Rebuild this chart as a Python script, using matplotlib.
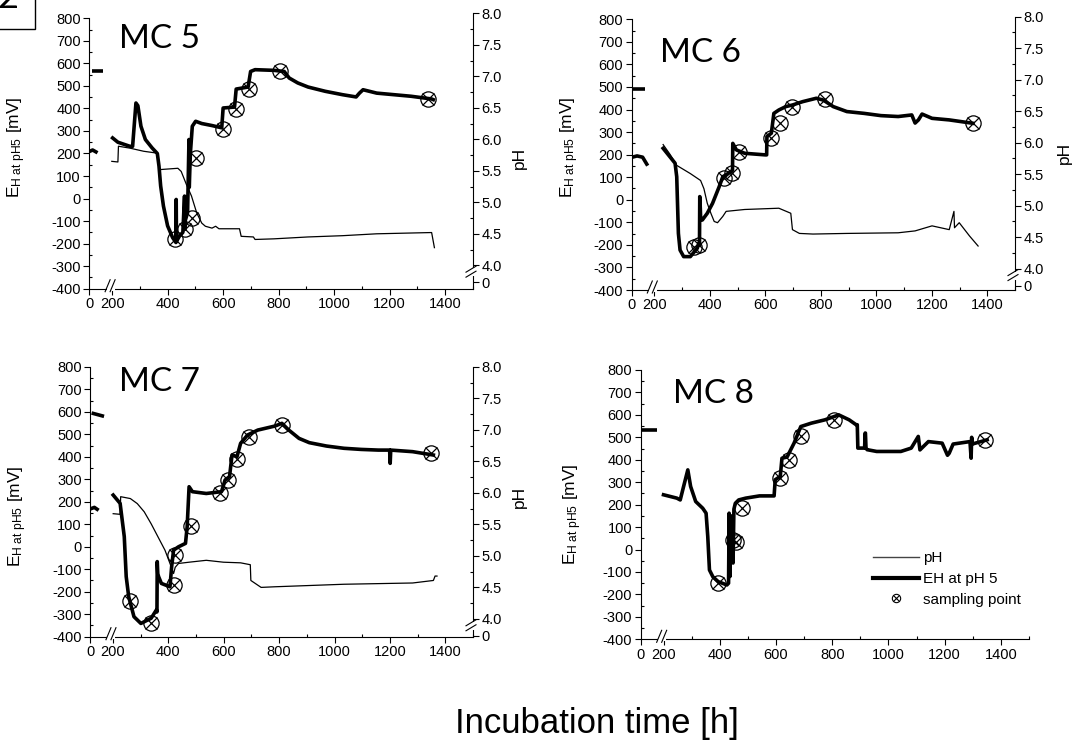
import numpy as np
import matplotlib.pyplot as plt
from matplotlib.lines import Line2D
from matplotlib.patches import Rectangle
from matplotlib.ticker import FuncFormatter

plt.rcParams['font.family'] = ['Liberation Sans', 'DejaVu Sans']
plt.rcParams['mathtext.fontset'] = 'custom'
plt.rcParams['mathtext.rm'] = 'Liberation Sans'
plt.rcParams['mathtext.it'] = 'Liberation Sans:italic'
plt.rcParams['axes.linewidth'] = 0.8
plt.rcParams['axes.unicode_minus'] = False

W, H = 1074, 749

# ---- MC 5 ----
mc5_eh_t0 = [8, 50]
mc5_eh0 = [568, 568]
mc5_eh_t = [202, 221, 264, 274, 286, 293, 304, 320, 344, 363, 369, 375, 385, 400, 418, 430, 431,
            432, 443, 455, 461, 462, 463, 472, 477, 478, 482, 489, 501, 523, 560, 595, 600, 641,
            647, 690, 699, 715, 783, 820, 838, 869, 906, 968, 1030, 1079, 1091, 1104, 1153, 1215,
            1277, 1351, 1357]
mc5_eh = [269, 250, 232, 232, 424, 412, 321, 262, 225, 200, 144, 56, -33, -121, -173, -195, -4,
          -190, -166, -150, 11, -136, -100, -62, 262, 50, 200, 321, 343, 333, 324, 314, 402, 406,
          486, 495, 564, 572, 569, 564, 535, 513, 495, 476, 461, 451, 468, 483, 468, 461,
          454, 442, 439]
mc5_ph_t0 = [2, 12, 24]
mc5_ph0 = [5.81, 5.83, 5.80]
mc5_ph_t = [190, 221, 223, 264, 314, 363, 369, 375, 437, 449, 468, 486, 505, 523, 536, 560, 573,
            585, 659, 665, 709, 715, 783, 906, 1030, 1153, 1351, 1361]
mc5_ph = [5.65, 5.64, 5.89, 5.86, 5.81, 5.78, 5.54, 5.52, 5.54, 5.49, 5.28, 5.10, 4.83, 4.67,
          4.62, 4.59, 4.62, 4.58, 4.58, 4.46, 4.45, 4.41, 4.42, 4.45, 4.47, 4.50, 4.52, 4.28]
mc5_samp_t = [427, 462, 489, 501, 598, 647, 694, 805, 1338]
mc5_samp = [-180, -136, -85, 181, 309, 398, 486, 567, 442]

# ---- MC 6 ----
mc6_eh_t0 = [5, 50]
mc6_eh0 = [491, 491]
mc6_eh_t = [232, 275, 281, 287, 293, 306, 330, 355, 361, 363, 364, 366, 367, 373, 391, 410, 434,
            447, 477, 482, 483, 496, 526, 600, 605, 606, 622, 631, 649, 674, 698, 735, 784, 809,
            845, 894, 956, 1017, 1079, 1128, 1140, 1152, 1165, 1201, 1263, 1348]
mc6_eh = [228, 162, 102, -149, -223, -252, -252, -215, -193, -200, 14, -40, -75, -90, -60, -16,
          58, 102, 125, 130, 250, 221, 206, 199, 199, 280, 295, 383, 398, 413, 420, 435, 450, 442,
          413, 391, 383, 373, 369, 376, 340, 354, 380, 361, 354, 339]
mc6_ph_t0 = [3, 20, 40, 55]
mc6_ph0 = [5.77, 5.79, 5.77, 5.66]
mc6_ph_t = [232, 256, 281, 330, 367, 379, 391, 404, 416, 428, 447, 459, 526, 649, 692, 698, 723,
            772, 894, 1079, 1140, 1201, 1263, 1280, 1282, 1299, 1336, 1367]
mc6_ph = [5.97, 5.82, 5.64, 5.51, 5.40, 5.27, 5.04, 4.88, 4.75, 4.73, 4.83, 4.91, 4.94, 4.96,
          4.88, 4.62, 4.56, 4.55, 4.56, 4.57, 4.60, 4.68, 4.62, 4.91, 4.65, 4.73, 4.52, 4.36]
mc6_samp_t = [342, 361, 450, 480, 505, 622, 653, 698, 815, 1348]
mc6_samp = [-208, -200, 95, 117, 213, 272, 342, 413, 445, 339]

# ---- MC 7 ----
mc7_eh_t0 = [5, 50]
mc7_eh0 = [595, 580]
mc7_eh_t = [201, 226, 241, 248, 257, 276, 301, 338, 357, 359, 360, 362, 365, 375, 406, 412, 419,
            437, 462, 468, 475, 487, 537, 592, 605, 621, 630, 648, 661, 686, 723, 785, 810, 835,
            872, 909, 971, 1034, 1096, 1158, 1199, 1201, 1203, 1282, 1357]
mc7_eh = [230, 193, 45, -133, -222, -311, -341, -318, -281, -290, -66, -120, -133, -163, -178,
          -89, -15, 0, 15, 89, 267, 245, 237, 245, 297, 312, 408, 401, 460, 497, 519, 537, 549,
          519, 482, 463, 448, 438, 433, 430, 430, 371, 430, 423, 408]
mc7_ph_t0 = [3, 15, 25]
mc7_ph0 = [5.75, 5.77, 5.74]
mc7_ph_t = [201, 226, 228, 263, 288, 313, 338, 363, 388, 406, 419, 425, 437, 475, 537, 599, 661,
            696, 698, 735, 785, 1034, 1282, 1357, 1363, 1370]
mc7_ph = [5.67, 5.66, 5.94, 5.91, 5.83, 5.70, 5.51, 5.30, 5.09, 4.88, 4.72, 4.82, 4.88, 4.90,
          4.93, 4.90, 4.89, 4.86, 4.61, 4.50, 4.51, 4.55, 4.57, 4.61, 4.68, 4.68]
mc7_samp_t = [261, 338, 419, 425, 481, 586, 617, 648, 692, 812, 1347]
mc7_samp = [-240, -338, -170, -37, 94, 237, 297, 389, 489, 541, 415]

# ---- MC 8 ----
mc8_eh_t0 = [5, 60]
mc8_eh0 = [534, 534]
mc8_eh_t = [195, 247, 259, 271, 286, 296, 314, 339, 351, 357, 363, 375, 394, 425, 431, 433, 436,
            440, 443, 447, 450, 455, 467, 492, 541, 593, 597, 615, 621, 639, 664, 688, 725, 774,
            823, 860, 885, 889, 891, 915, 917, 918, 920, 924, 958, 1044, 1081, 1106, 1112, 1142,
            1191, 1210, 1216, 1230, 1290, 1294, 1296, 1298, 1351]
mc8_eh = [244, 229, 221, 281, 355, 281, 214, 184, 162, 58, -91, -121, -143, -158, -150, 162, -120,
          150, 88, -60, 180, 206, 221, 229, 239, 239, 311, 326, 407, 412, 474, 548, 563, 578, 600,
          578, 556, 556, 452, 452, 519, 519, 452, 445, 437, 437, 452, 504, 444, 481, 474, 420,
          429, 470, 481, 407, 500, 470, 489]
mc8_samp_t = [394, 448, 457, 480, 615, 645, 688, 805, 1345]
mc8_samp = [-150, 43, 33, 184, 318, 400, 504, 578, 489]

x_major = [0, 200, 400, 600, 800, 1000, 1200, 1400]
x_minor = [300, 500, 700, 900, 1100, 1300, 1500]
ph_major = [0, 4.0, 4.5, 5.0, 5.5, 6.0, 6.5, 7.0, 7.5, 8.0]
ph_minor = [4.25, 4.75, 5.25, 5.75, 6.25, 6.75, 7.25, 7.75]


# broken time axis: 0..70 h kept, gap squeezed, then linear from 200 h
def x_fwd(t):
    t = np.asarray(t, float)
    return np.where(t <= 70, t, np.where(t >= 200, t - 118, 70 + (t - 70) * 12 / 130))


def x_inv(u):
    u = np.asarray(u, float)
    return np.where(u <= 70, u, np.where(u >= 82, u + 118, 70 + (u - 70) * 130 / 12))


PH0 = 3.73


def ph_fwd(p):
    p = np.asarray(p, float)
    return np.where(p >= 4, p, PH0 + p * (4 - PH0) / 4)


def ph_inv(u):
    u = np.asarray(u, float)
    return np.where(u >= 4, u, (u - PH0) * 4 / (4 - PH0))


fig = plt.figure(figsize=(W / 100, H / 100), dpi=100)
to_fig = fig.transFigure.inverted()


def fig_line(xs, ys, **kw):
    pts = to_fig.transform(np.column_stack([xs, ys]))
    fig.add_artist(Line2D(pts[:, 0], pts[:, 1], transform=fig.transFigure, **kw))


def style_ticks(axis_obj):
    axis_obj.tick_params(which='major', direction='out', length=4, width=0.8, labelsize=10.5, pad=2)
    axis_obj.tick_params(which='minor', direction='in', length=2.5, width=0.8)


def panel(box, eh_t0, eh0, eh_t, eh, samp_t, samp, ylab_pos,
          ph_t0=None, ph0=None, ph_t=None, ph=None, phlab_pos=None):
    left, right, bottom, top, mv800 = box
    ax = fig.add_axes([left / W, 1 - bottom / H, (right - left) / W, (bottom - top) / H])
    ax.set_xscale('function', functions=(x_fwd, x_inv))
    ax.set_xlim(0, 1500)
    ppm = (bottom - mv800) / 1200
    ax.set_ylim(-400, 800 + (mv800 - top) / ppm)
    ax.spines['left'].set_bounds(-400, 800)
    ax.spines[['top', 'right']].set_visible(False)
    ax.set_xticks(x_major)
    ax.set_xticks(x_minor, minor=True)
    ax.set_yticks(range(-400, 801, 100))
    ax.set_yticks(range(-350, 751, 100), minor=True)
    style_ticks(ax)

    ax.plot(eh_t0, eh0, color='k', lw=2.6, solid_capstyle='butt')
    ax.plot(eh_t, eh, color='k', lw=2.6)
    ax.plot(samp_t, samp, ls='none', marker='o', ms=11, mfc='none', mec='k', mew=0.9, zorder=4)
    ax.plot(samp_t, samp, ls='none', marker='x', ms=8, mec='k', mew=0.9, zorder=4)

    ax.set_ylabel('E$_{\\mathregular{H\\ at\\ pH5}}$ [mV]', fontsize=12.5, va='center')
    ax.yaxis.set_label_coords(*ylab_pos)

    # break marks on the time axis
    x0, y0 = ax.transData.transform((124, -400))
    fig_line([x0 - 2.5, x0 + 2.5], [y0, y0], color='white', lw=2.2, zorder=5)
    for dx in (-2.5, 2.5):
        fig_line([x0 + dx - 2.5, x0 + dx + 2.5], [y0 - 3, y0 + 9], color='k', lw=0.8, zorder=6)

    ax2 = None
    if ph_t is not None:
        ax2 = ax.twinx()
        ax2.set_yscale('function', functions=(ph_fwd, ph_inv))
        ph_bottom = ph_inv(8 - (bottom - top) / 63.0)
        ax2.set_ylim(float(ph_bottom), 8.0)
        ax2.spines[['top', 'left', 'bottom']].set_visible(False)
        ax2.set_yticks(ph_major)
        ax2.set_yticks(ph_minor, minor=True)
        ax2.yaxis.set_major_formatter(FuncFormatter(lambda v, pos: '0' if abs(v) < 1e-9 else f'{v:.1f}'))
        style_ticks(ax2)
        ax2.plot(ph_t0, ph0, color='k', lw=2.6)
        ax2.plot(ph_t, ph, color='k', lw=0.9)
        ax2.set_ylabel('pH', fontsize=12.5, va='center')
        ax2.yaxis.set_label_coords(*phlab_pos)

        x1, y1 = ax2.transData.transform((1500, 2.5))
        fig_line([x1, x1], [y1 - 2.5, y1 + 2.5], color='white', lw=2.2, zorder=5)
        for dy in (-2.5, 2.5):
            fig_line([x1 - 7, x1 + 3], [y1 + dy - 3, y1 + dy + 3], color='k', lw=0.8, zorder=6)
    return ax, ax2


# layout boxes in pixels: left, right, bottom, top (pH 8.0), 800 mV level
ax5, _ = panel((89.3, 473, 288.7, 13.3, 18.3), mc5_eh_t0, mc5_eh0, mc5_eh_t, mc5_eh,
               mc5_samp_t, mc5_samp, (-0.19, 0.513),
               mc5_ph_t0, mc5_ph0, mc5_ph_t, mc5_ph, (1.12, 0.475))
ax6, _ = panel((631.5, 1015, 290, 16.7, 19.3), mc6_eh_t0, mc6_eh0, mc6_eh_t, mc6_eh,
               mc6_samp_t, mc6_samp, (-0.16, 0.524),
               mc6_ph_t0, mc6_ph0, mc6_ph_t, mc6_ph, (1.13, 0.50))
ax7, _ = panel((90.2, 473, 636.7, 366.9, 366.8), mc7_eh_t0, mc7_eh0, mc7_eh_t, mc7_eh,
               mc7_samp_t, mc7_samp, (-0.19, 0.447),
               mc7_ph_t0, mc7_ph0, mc7_ph_t, mc7_ph, (1.12, 0.518))
ax8, _ = panel((640.6, 1029, 639.3, 370, 370), mc8_eh_t0, mc8_eh0, mc8_eh_t, mc8_eh,
               mc8_samp_t, mc8_samp, (-0.175, 0.465))

for name, (tx, ty) in zip(['MC 5', 'MC 6', 'MC 7', 'MC 8'],
                          [(119, 48), (660, 62), (119, 391), (673, 403)]):
    fig.text(tx / W, 1 - ty / H, name, fontsize=24, family='Lato', va='baseline', ha='left')

fig.text(597 / W, 1 - 733 / H, 'Incubation time [h]', fontsize=25, ha='center', va='baseline')

# panel letter box in the corner
fig.add_artist(Rectangle((-5 / W, 1 - 29 / H), 40 / W, 40 / H, transform=fig.transFigure,
                         fill=False, lw=1, color='k'))
fig.text(8 / W, 1 - 8 / H, '2', fontsize=26, family='Lato', ha='center', va='baseline')

# legend
h_ph = Line2D([], [], color='#444444', lw=1)
h_eh = Line2D([], [], color='k', lw=3)
h_s = (Line2D([], [], ls='none', marker='o', ms=6, mfc='none', mec='k', mew=0.8),
       Line2D([], [], ls='none', marker='x', ms=4.5, mec='k', mew=0.8))
ax8.legend([h_ph, h_eh, h_s], ['pH', 'EH at pH 5', 'sampling point'],
           loc='upper left', bbox_to_anchor=(873 / W, 1 - 551 / H), bbox_transform=fig.transFigure,
           frameon=False, borderpad=0, borderaxespad=0, handlelength=3.0, handletextpad=0.25,
           labelspacing=0.45, fontsize=11)

fig.savefig('out.png', dpi=100)
